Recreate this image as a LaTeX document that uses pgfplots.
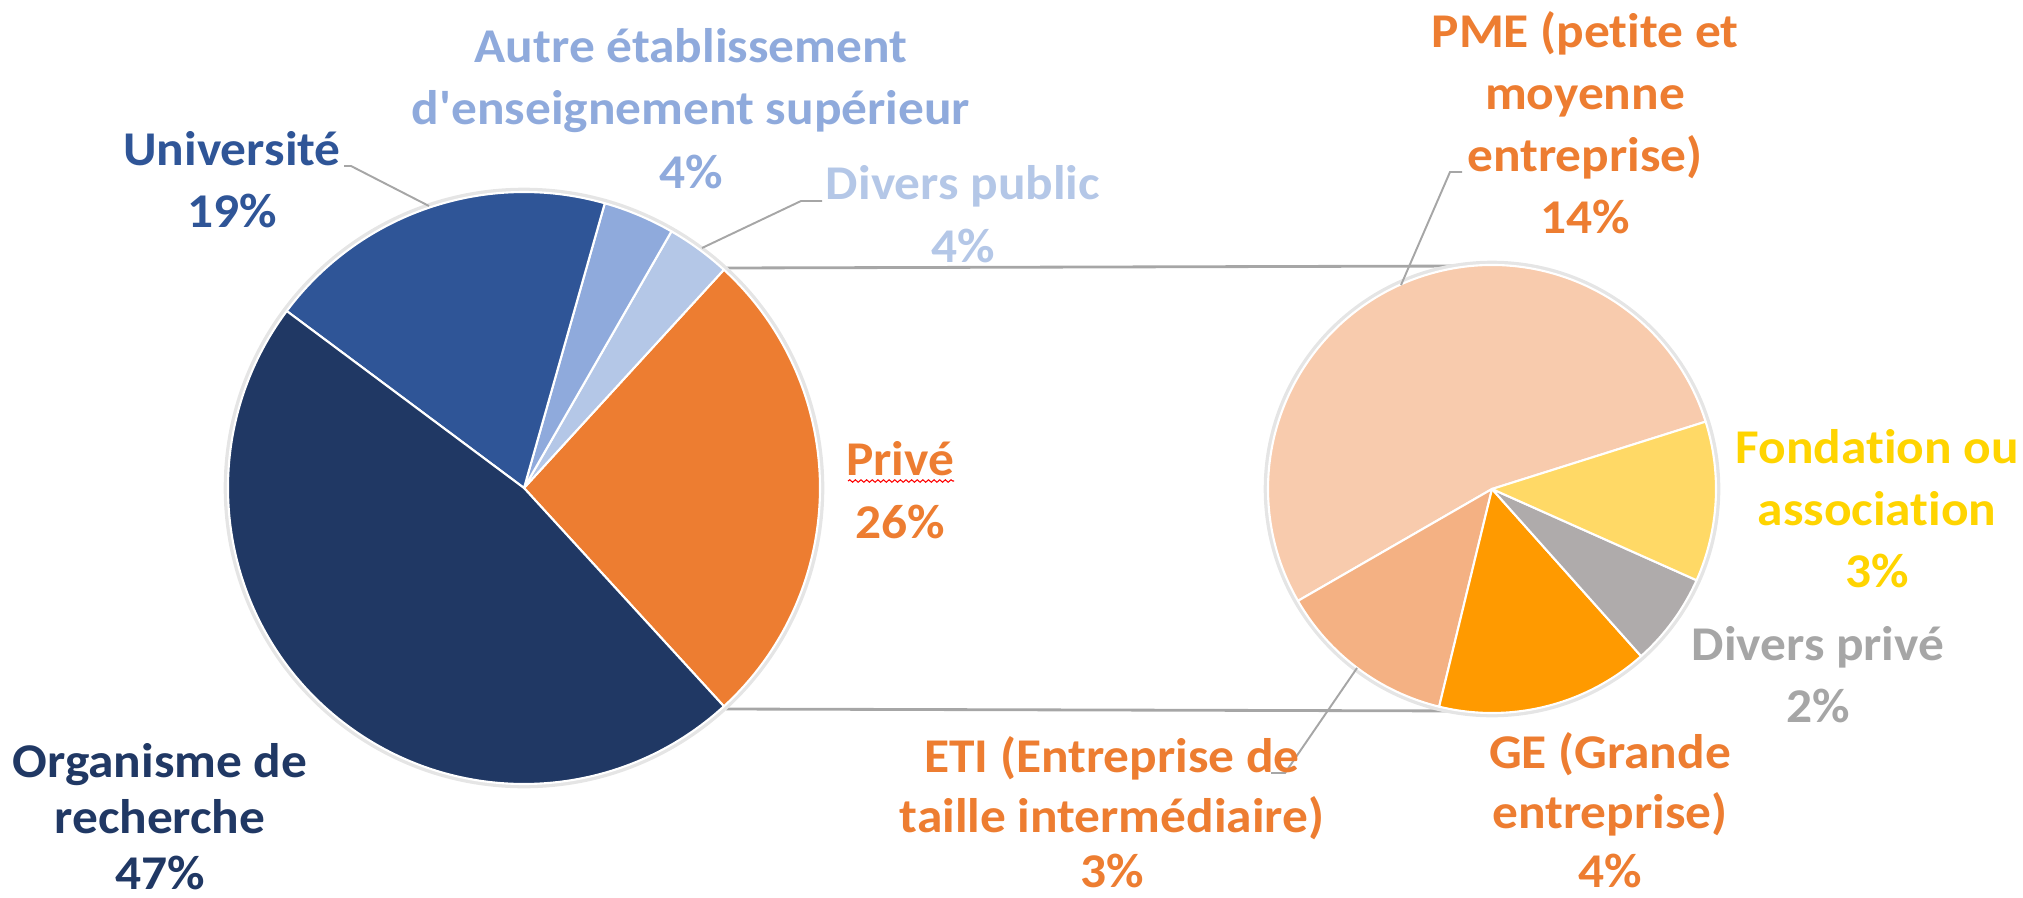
\documentclass[border=0pt]{standalone}
\usepackage{pgfplots}
\usepackage{pgfplotstable}
\pgfplotsset{compat=1.18}
\usepackage{fontspec}
\setmainfont{Carlito}[FakeStretch=1.06, Ligatures={NoCommon}]
\newfontfamily\carlito{Carlito}[FakeStretch=1.06, Ligatures={NoCommon}]
\usetikzlibrary{decorations.pathmorphing}

\definecolor{cOrg}{HTML}{203864}
\definecolor{cUniv}{HTML}{2F5597}
\definecolor{cAutre}{HTML}{8FAADC}
\definecolor{cDivPub}{HTML}{B4C7E7}
\definecolor{cPrive}{HTML}{ED7D31}
\definecolor{cPME}{HTML}{F8CBAD}
\definecolor{cETI}{HTML}{F4B183}
\definecolor{cGE}{HTML}{FF9A00}
\definecolor{cDivPriv}{HTML}{AFABAB}
\definecolor{cFond}{HTML}{FFD966}
\definecolor{tFond}{HTML}{FFD400}
\definecolor{tDivPriv}{HTML}{A6A6A6}
\definecolor{cLine}{HTML}{A6A6A6}

% Main pie: share of total (%), counter-clockwise from Prive
\pgfplotstableread{
label value
Prive 26.4
DiversPublic 3.5
Autre 3.9
Universite 19.2
Organisme 47.0
}\leftpie
% Secondary pie: share of total (%), clockwise from PME
\pgfplotstableread{
label value
PME 13.9
ETI 3.35
GE 4.0
DiversPrive 1.75
Fondation 3.0
}\rightpie

\pgfplotstablegetelem{0}{value}\of\leftpie \let\vPrive\pgfplotsretval
\pgfplotstablegetelem{1}{value}\of\leftpie \let\vDivPub\pgfplotsretval
\pgfplotstablegetelem{2}{value}\of\leftpie \let\vAutre\pgfplotsretval
\pgfplotstablegetelem{3}{value}\of\leftpie \let\vUniv\pgfplotsretval
\pgfplotstablegetelem{4}{value}\of\leftpie \let\vOrg\pgfplotsretval
\pgfplotstablegetelem{0}{value}\of\rightpie \let\vPME\pgfplotsretval
\pgfplotstablegetelem{1}{value}\of\rightpie \let\vETI\pgfplotsretval
\pgfplotstablegetelem{2}{value}\of\rightpie \let\vGE\pgfplotsretval
\pgfplotstablegetelem{3}{value}\of\rightpie \let\vDivPriv\pgfplotsretval
\pgfplotstablegetelem{4}{value}\of\rightpie \let\vFond\pgfplotsretval

% angles of the main pie
\pgfmathsetmacro\La{-\vPrive*1.8}
\pgfmathsetmacro\Lb{\La+\vPrive*3.6}
\pgfmathsetmacro\Lc{\Lb+\vDivPub*3.6}
\pgfmathsetmacro\Ld{\Lc+\vAutre*3.6}
\pgfmathsetmacro\Le{\Ld+\vUniv*3.6}
\pgfmathsetmacro\Lf{\Le+\vOrg*3.6}
% angles of the secondary pie
\pgfmathsetmacro\Rs{360/(\vPME+\vETI+\vGE+\vDivPriv+\vFond)}
\pgfmathsetmacro\Ra{17.5}
\pgfmathsetmacro\Rb{\Ra+\vPME*\Rs}
\pgfmathsetmacro\Rc{\Rb+\vETI*\Rs}
\pgfmathsetmacro\Rd{\Rc+\vGE*\Rs}
\pgfmathsetmacro\Re{\Rd+\vDivPriv*\Rs}
\pgfmathsetmacro\Rf{\Re+\vFond*\Rs}

\newcommand\slice[5]{\fill[#5, draw=white, line width=0.6pt, line join=round] (#1) -- ++(#3:#2) arc[start angle=#3, end angle=#4, radius=#2] -- cycle;}
\newcommand\lblfont{\carlito\fontsize{13.8}{16}\selectfont\bfseries}
\newcommand\lbl[4]{\node[anchor=base, text=#3, font=\lblfont, inner sep=0pt] at (axis cs:#1,#2) {#4};}

\begin{document}
\begin{tikzpicture}
\begin{axis}[at={(0,0)}, anchor=south west, scale only axis,
  width=202.3mm, height=89.7mm,
  xmin=0, xmax=2023, ymin=0, ymax=897, y dir=reverse,
  hide axis, clip=false]
% connector lines
\draw[cLine, line width=0.8pt] (axis cs:726,268) -- (axis cs:1468,266);
\draw[cLine, line width=0.8pt] (axis cs:726,709) -- (axis cs:1475,711);
% soft outlines
\draw[black!10, line width=1.6pt] (axis cs:524,488) circle[radius=29.75mm];
\draw[black!10, line width=1.6pt] (axis cs:1492,489) circle[radius=22.55mm];
% main pie
\slice{axis cs:524,488}{29.6mm}{\La}{\Lb}{cPrive}
\slice{axis cs:524,488}{29.6mm}{\Lb}{\Lc}{cDivPub}
\slice{axis cs:524,488}{29.6mm}{\Lc}{\Ld}{cAutre}
\slice{axis cs:524,488}{29.6mm}{\Ld}{\Le}{cUniv}
\slice{axis cs:524,488}{29.6mm}{\Le}{\Lf}{cOrg}
% secondary pie
\slice{axis cs:1492,489}{22.4mm}{\Ra}{\Rb}{cPME}
\slice{axis cs:1492,489}{22.4mm}{\Rb}{\Rc}{cETI}
\slice{axis cs:1492,489}{22.4mm}{\Rc}{\Rd}{cGE}
\slice{axis cs:1492,489}{22.4mm}{\Rd}{\Re}{cDivPriv}
\slice{axis cs:1492,489}{22.4mm}{\Re}{\Rf}{cFond}
% leader lines
\draw[cLine, line width=0.55pt] (axis cs:344,166) -- (axis cs:351,166) -- (axis cs:429,206);
\draw[cLine, line width=0.55pt] (axis cs:822,201) -- (axis cs:801,201) -- (axis cs:702,248);
\draw[cLine, line width=0.55pt] (axis cs:1462,172) -- (axis cs:1450,172) -- (axis cs:1401,285);
\draw[cLine, line width=0.55pt] (axis cs:1357,668) -- (axis cs:1285,773) -- (axis cs:1271,773);
% labels
\lbl{691}{63}{cAutre}{Autre établissement}
\lbl{691}{125}{cAutre}{d'enseignement supérieur}
\lbl{691}{188}{cAutre}{4\%}
\lbl{232}{166}{cUniv}{Université}
\lbl{232}{228}{cUniv}{19\%}
\lbl{963}{200}{cDivPub}{Divers public}
\lbl{963}{262}{cDivPub}{4\%}
\lbl{900}{475}{cPrive}{Privé}
\lbl{900}{538}{cPrive}{26\%}
\draw[red, line width=0.3pt, decorate, decoration={snake, amplitude=0.35pt, segment length=1.6pt}] (axis cs:848,481) -- (axis cs:954,481);
\lbl{160}{777}{cOrg}{Organisme de}
\lbl{160}{833}{cOrg}{recherche}
\lbl{160}{889}{cOrg}{47\%}
\lbl{1585}{48}{cPrive}{PME (petite et}
\lbl{1585}{110}{cPrive}{moyenne}
\lbl{1585}{172}{cPrive}{entreprise)}
\lbl{1585}{233}{cPrive}{14\%}
\lbl{1877}{463}{tFond}{Fondation ou}
\lbl{1877}{525}{tFond}{association}
\lbl{1877}{587}{tFond}{3\%}
\lbl{1818}{660}{tDivPriv}{Divers privé}
\lbl{1818}{722}{tDivPriv}{2\%}
\lbl{1610}{768}{cPrive}{GE (Grande}
\lbl{1610}{828}{cPrive}{entreprise)}
\lbl{1610}{887}{cPrive}{4\%}
\lbl{1112}{772}{cPrive}{ETI (Entreprise de}
\lbl{1112}{832}{cPrive}{taille intermédiaire)}
\lbl{1112}{887}{cPrive}{3\%}
\end{axis}
\pgfresetboundingbox
\path[use as bounding box] (0,0) rectangle (202.3mm,89.7mm);
\end{tikzpicture}
\end{document}
